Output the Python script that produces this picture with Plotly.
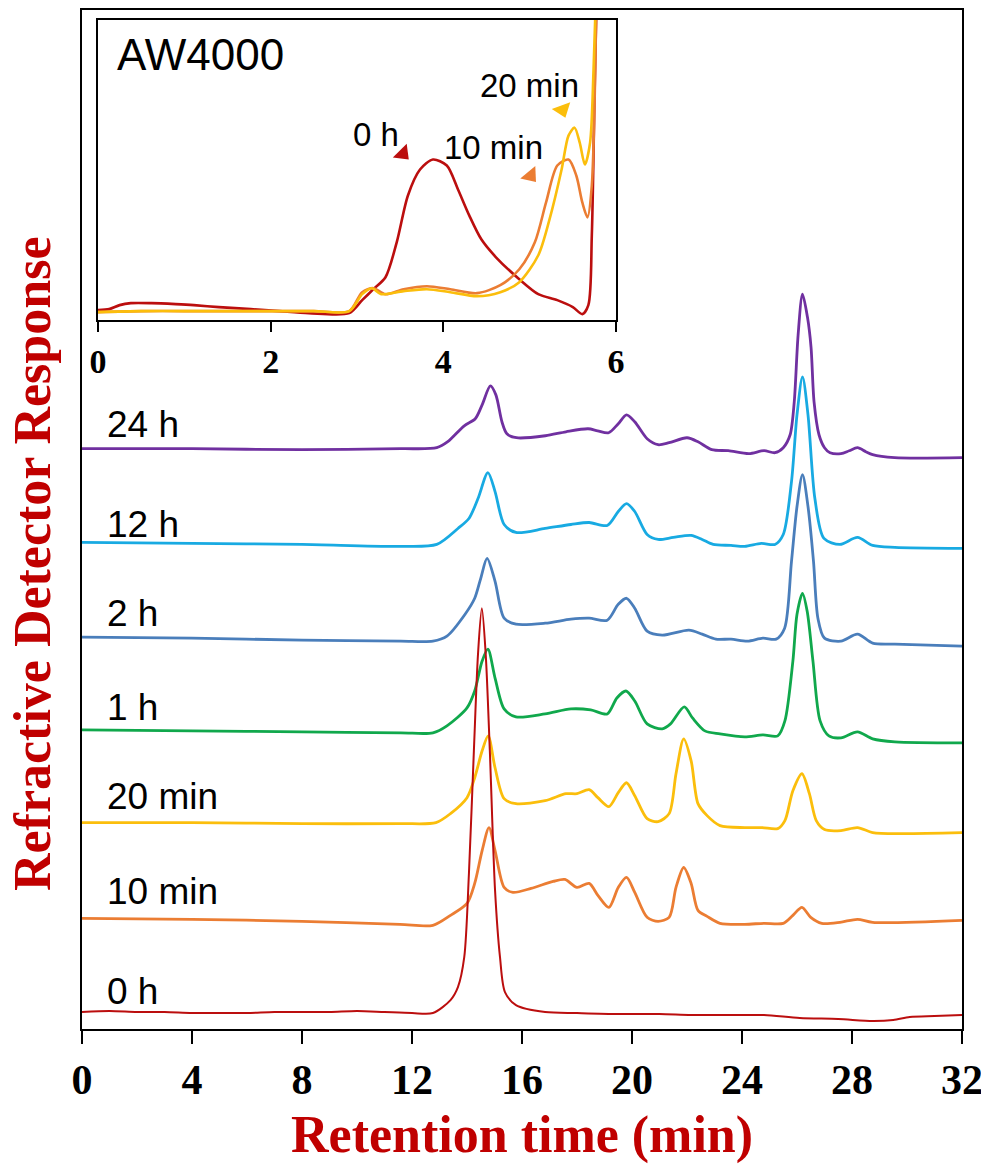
import plotly.graph_objects as go

# main chromatograms: retention time (min) and detector response (a.u., stacked)
t_24h = [0, 4, 8, 11.6, 12.9, 13.3, 13.9, 14.3, 14.55, 14.85, 15.05, 15.27, 15.45, 15.8, 16.85, 17.6,
         18.4, 18.75, 19.15, 19.5, 19.8, 20.1, 20.55, 20.95, 21.35, 22.0, 22.4, 22.9, 23.5, 24.25, 24.8,
         25.2, 25.5, 25.75, 25.9, 26.04, 26.2, 26.38, 26.51, 26.62, 26.8, 27.0, 27.2, 27.6, 27.9, 28.2,
         28.5, 28.75, 29.55, 32]
y_24h = [582, 582, 581, 582, 583, 589, 605, 612, 626, 645, 636, 609, 597, 593, 595, 599,
         602, 600, 598, 607, 616, 609, 592, 586, 588, 593, 589, 581, 580, 577, 580,
         578, 583, 596, 629, 696, 737, 714, 684, 629, 596, 583, 578, 577, 580, 583,
         579, 576, 573, 573]

t_12h = [0, 4, 8, 11.6, 12.9, 13.67, 14.07, 14.4, 14.76, 15.02, 15.35, 15.78, 16.84, 17.78, 18.44,
         19.1, 19.5, 19.8, 20.1, 20.55, 20.95, 21.5, 22.15, 22.55, 22.95, 23.6, 24.1, 24.7, 25.2,
         25.5, 25.8, 26.0, 26.2, 26.4, 26.65, 26.98, 27.56, 28.2, 28.75, 29.56, 32]
y_12h = [488, 487, 486, 484, 486, 502, 512, 532, 558, 539, 506, 498, 502, 506, 508,
         505, 519, 527, 519, 496, 491, 493, 495, 491, 486, 485, 484, 487, 486,
         496, 549, 616, 654, 616, 532, 492, 486, 493, 485, 483, 482]

t_2h = [0, 4, 8, 11.6, 12.76, 13.27, 13.93, 14.28, 14.5, 14.73, 15.02, 15.35, 15.78, 16.84, 17.78,
        18.44, 19.1, 19.5, 19.8, 20.1, 20.55, 21.1, 22.07, 22.55, 23.05, 23.6, 24.2, 24.76, 25.24,
        25.55, 25.8, 26.0, 26.2, 26.4, 26.6, 26.76, 27.0, 27.6, 28.2, 28.75, 29.56, 32]
y_2h = [393, 392, 390, 389, 389, 394, 416, 432, 452, 472, 449, 412, 406, 407, 411,
        412, 410, 426, 432, 422, 399, 395, 400, 396, 391, 391, 389, 392, 391,
        402, 469, 524, 556, 524, 469, 412, 392, 389, 396, 387, 386, 384]

t_1h = [0, 4, 8, 11.6, 12.76, 13.27, 14.0, 14.28, 14.55, 14.76, 15.02, 15.35, 15.78, 16.84, 17.78,
        18.5, 19.1, 19.45, 19.78, 20.1, 20.55, 21.1, 21.4, 21.9, 22.2, 22.65, 23.2, 24.1, 24.76,
        25.3, 25.56, 25.85, 26.0, 26.2, 26.37, 26.58, 26.84, 27.16, 27.6, 28.2, 28.75, 29.56, 32]
y_1h = [300, 299, 298, 297, 297, 304, 322, 339, 369, 381, 352, 321, 313, 316, 321,
        320, 316, 332, 339, 329, 306, 301, 306, 323, 312, 299, 296, 293, 295,
        294, 309, 369, 416, 437, 419, 369, 309, 294, 292, 298, 291, 288, 287]

t_20m = [0, 4, 8, 11.6, 12.87, 13.4, 14.0, 14.28, 14.55, 14.77, 15.02, 15.35, 15.78, 16.84, 17.6,
         18.0, 18.44, 18.76, 19.16, 19.5, 19.8, 20.1, 20.55, 20.95, 21.35, 21.6, 21.88, 22.15, 22.4,
         22.73, 23.2, 24.1, 24.73, 25.3, 25.56, 25.85, 26.18, 26.45, 26.7, 27.0, 27.6, 28.2, 28.75,
         29.8, 32]
y_20m = [207, 207, 206, 206, 207, 216, 232, 252, 279, 294, 262, 231, 226, 229, 236,
         236, 240, 232, 223, 237, 247, 234, 211, 208, 216, 256, 291, 269, 226,
         214, 204, 202, 202, 201, 209, 239, 256, 236, 209, 200, 199, 202, 197,
         196, 197]

t_10m = [0, 4, 8, 11.56, 12.76, 13.4, 14.0, 14.28, 14.55, 14.8, 15.02, 15.35, 15.67, 16.33, 17.13,
         17.56, 18.0, 18.44, 18.76, 19.16, 19.5, 19.8, 20.1, 20.55, 20.95, 21.35, 21.6, 21.88, 22.15,
         22.4, 22.73, 23.2, 24.1, 24.8, 25.5, 25.85, 26.18, 26.5, 26.9, 27.56, 28.2, 28.75, 32]
y_10m = [111, 110, 108, 105, 104, 114, 126, 146, 179, 202, 179, 142, 137, 141, 148,
         150, 142, 146, 134, 122, 142, 152, 137, 112, 108, 112, 142, 162, 146,
         119, 113, 106, 105, 106, 106, 114, 122, 112, 106, 107, 110, 107, 109]

t_0h = [0, 1, 2, 3, 4, 5, 6, 7, 8, 9, 10, 11, 12, 12.76, 13.4, 13.67, 13.9, 14.07, 14.25, 14.4,
        14.54, 14.68, 14.83, 15.02, 15.2, 15.38, 15.78, 16.84, 18, 19.5, 21, 22.15, 23.5, 24.8,
        26.1, 27.5, 28.75, 29.5, 30.1, 31, 32]
y_0h = [17, 18, 17, 17, 16, 16, 16, 17, 17, 17, 18, 17, 16, 16, 29, 42, 72, 156, 279, 376,
        422, 376, 279, 139, 72, 37, 24, 17, 16, 15, 15, 14, 14, 14,
        11, 10, 8, 9, 12, 13, 14]

series = [
    ("24 h", t_24h, y_24h, "#7030A0", 606),
    ("12 h", t_12h, y_12h, "#18AAE2", 506),
    ("2 h", t_2h, y_2h, "#4A7EBB", 417),
    ("1 h", t_1h, y_1h, "#10A84C", 322),
    ("20 min", t_20m, y_20m, "#FBBE0C", 233),
    ("10 min", t_10m, y_10m, "#EB7D33", 138),
    ("0 h", t_0h, y_0h, "#BB0E0E", 38),
]

# inset (AW4000) early-eluting region
ti_0h = [0, 0.13, 0.25, 0.38, 0.62, 0.9, 1.11, 1.4, 1.77, 2.1, 2.44, 2.91, 3.06, 3.19, 3.33, 3.46,
         3.59, 3.73, 3.88, 4.04, 4.17, 4.3, 4.44, 4.61, 4.88, 5.1, 5.32, 5.5, 5.61, 5.68, 5.72,
         5.75, 5.77, 5.8]
yi_0h = [2, 3, 7, 9, 9, 8, 7, 5, 3, 1, -1, -1, 12, 23, 35, 70,
         117, 143, 153, 147, 123, 97, 73, 55, 33, 18, 12, 5, -2, 7, 77,
         210, 293, 370]
ti_10m = [0, 0.5, 1, 1.5, 2, 2.5, 2.91, 3.06, 3.19, 3.33, 3.54, 3.81, 4.08, 4.39, 4.66, 4.88,
          5.06, 5.19, 5.32, 5.45, 5.54, 5.61, 5.67, 5.72, 5.76, 5.78]
yi_10m = [0, 1, 1, 1, 1, 1, 1, 20, 24, 18, 23, 26, 23, 19, 27, 43,
          70, 110, 147, 153, 137, 110, 95, 127, 243, 350]
ti_20m = [0, 0.5, 1, 1.5, 2, 2.5, 2.91, 3.06, 3.17, 3.28, 3.54, 3.81, 4.08, 4.39, 4.66, 4.88,
          5.1, 5.23, 5.37, 5.45, 5.52, 5.58, 5.64, 5.7, 5.74, 5.78]
yi_20m = [0, 1, 1, 1, 1, 1, 1, 18, 24, 18, 21, 23, 20, 16, 20, 30,
          57, 93, 143, 177, 185, 170, 148, 170, 243, 350]

inset_labels = ["0 h", "10 min", "20 min"]
inset_label_x = [3.22, 4.58, 5.0]
inset_label_y = [178, 165, 227]
arrow_x = [3.53, 5.01, 5.38]
arrow_y = [159, 137, 203]
arrow_angle = [-45, -40, -20]
inset_colors = ["#BB0E0E", "#EB7D33", "#FBBE0C"]

fig = go.Figure()

for name, t, y, col, ly in series:
    w = 2 if name == "0 h" else 2.8
    fig.add_trace(go.Scatter(x=t, y=y, mode="lines", name=name,
                             line=dict(color=col, width=w, shape="spline", smoothing=0.8)))
    fig.add_annotation(x=0.84, y=ly, text=name, showarrow=False, xanchor="left", yanchor="middle",
                       font=dict(family="Liberation Sans, Arial", size=37, color="black"))

for t, y, col in [(ti_0h, yi_0h, inset_colors[0]), (ti_10m, yi_10m, inset_colors[1]),
                  (ti_20m, yi_20m, inset_colors[2])]:
    fig.add_trace(go.Scatter(x=t, y=y, mode="lines", xaxis="x2", yaxis="y2",
                             line=dict(color=col, width=2.6, shape="spline", smoothing=0.8)))

fig.add_trace(go.Scatter(x=arrow_x, y=arrow_y, mode="markers", xaxis="x2", yaxis="y2", cliponaxis=False,
                         marker=dict(symbol="triangle-down", size=17, color=inset_colors, angle=arrow_angle)))

for txt, x, y in zip(inset_labels, inset_label_x, inset_label_y):
    fig.add_annotation(x=x, y=y, xref="x2", yref="y2", text=txt, showarrow=False,
                       font=dict(family="Liberation Sans, Arial", size=33, color="black"))
fig.add_annotation(x=0.2, y=258, xref="x2", yref="y2", text="AW4000", showarrow=False,
                   xanchor="left", font=dict(family="Liberation Sans, Arial", size=44, color="black"))

# axis titles
fig.add_annotation(x=0.5, y=-0.104, xref="paper", yref="paper", text="<b>Retention time (min)</b>",
                   showarrow=False, yanchor="middle",
                   font=dict(family="Liberation Serif, Times New Roman", size=52, color="#C00000"))
fig.add_annotation(x=-0.056, y=0.457, xref="paper", yref="paper", text="<b>Refractive Detector Response</b>",
                   showarrow=False, textangle=-90, xanchor="center", yanchor="middle", borderpad=0,
                   font=dict(family="Liberation Serif, Times New Roman", size=52, color="#C00000"))

# page body adds an 8 px offset, so the figure is a bit smaller than the window
fig.update_layout(
    width=981, height=1161,
    margin=dict(l=74, r=27, t=0, b=140),
    paper_bgcolor="white", plot_bgcolor="white",
    showlegend=False,
    xaxis=dict(range=[0, 32], tickvals=[0, 4, 8, 12, 16, 20, 24, 28, 32], ticks="outside", ticklen=13,
               tickwidth=1.5, tickcolor="black", showline=True, mirror=True, linecolor="black", linewidth=2,
               showgrid=False, zeroline=False, ticklabelstandoff=0,
               tickfont=dict(family="Liberation Serif, Times New Roman", size=42, color="black", weight="bold")),
    yaxis=dict(range=[0, 1022], showticklabels=False, ticks="", showline=True, mirror=True,
               linecolor="black", linewidth=2, showgrid=False, zeroline=False),
    xaxis2=dict(domain=[0.0182, 0.6068], anchor="y2", range=[0, 6], tickvals=[0, 2, 4, 6], ticks="outside",
                ticklen=10, tickwidth=1.5, tickcolor="black", showline=True, mirror=True, linecolor="black",
                linewidth=1.5, showgrid=False, zeroline=False, ticklabelstandoff=0,
                tickfont=dict(family="Liberation Serif, Times New Roman", size=34, color="black", weight="bold")),
    yaxis2=dict(domain=[0.6957, 0.9902], anchor="x2", range=[-8, 293], showticklabels=False, ticks="",
                showline=True, mirror=True, linecolor="black", linewidth=1.5, showgrid=False, zeroline=False),
)

fig.write_html("out.html")
